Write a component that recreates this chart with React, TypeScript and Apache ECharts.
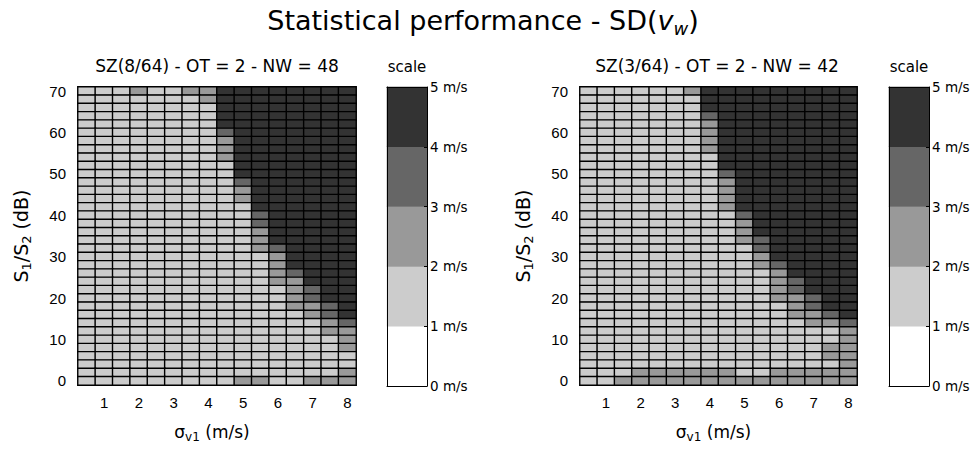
import React, { useEffect, useRef } from "react";
import * as echarts from "echarts";

// sigma_v1 (m/s) categories (cell centres) and S1/S2 (dB) categories
const xTicks = ["0.5", "1", "1.5", "2", "2.5", "3", "3.5", "4", "4.5", "5", "5.5", "6", "6.5", "7", "7.5", "8"];
const yTicks = ["0", "2", "4", "6", "8", "10", "12", "14", "16", "18", "20", "22", "24", "26", "28", "30", "32", "34",
  "36", "38", "40", "42", "44", "46", "48", "50", "52", "54", "56", "58", "60", "62", "64", "66", "68", "70"];

// SD band (m/s, lower bound of the band) for each cell, rows from S1/S2 = 70 dB (top) down to 0 dB
const sdLeft: number[][] = [
  [1, 1, 1, 2, 1, 1, 2, 2, 4, 4, 4, 4, 4, 4, 4, 4],
  [1, 1, 1, 1, 1, 1, 1, 2, 4, 4, 4, 4, 4, 4, 4, 4],
  [1, 1, 1, 1, 1, 1, 1, 1, 4, 4, 4, 4, 4, 4, 4, 4],
  [1, 1, 1, 1, 1, 1, 1, 1, 4, 4, 4, 4, 4, 4, 4, 4],
  [1, 1, 1, 1, 1, 1, 1, 1, 4, 4, 4, 4, 4, 4, 4, 4],
  [1, 1, 1, 1, 1, 1, 1, 1, 3, 4, 4, 4, 4, 4, 4, 4],
  [1, 1, 1, 1, 1, 1, 1, 1, 2, 4, 4, 4, 4, 4, 4, 4],
  [1, 1, 1, 1, 1, 1, 1, 1, 2, 4, 4, 4, 4, 4, 4, 4],
  [1, 1, 1, 1, 1, 1, 1, 1, 2, 4, 4, 4, 4, 4, 4, 4],
  [1, 1, 1, 1, 1, 1, 1, 1, 1, 4, 4, 4, 4, 4, 4, 4],
  [1, 1, 1, 1, 1, 1, 1, 1, 1, 4, 4, 4, 4, 4, 4, 4],
  [1, 1, 1, 1, 1, 1, 1, 1, 1, 3, 4, 4, 4, 4, 4, 4],
  [1, 1, 1, 1, 1, 1, 1, 1, 1, 2, 4, 4, 4, 4, 4, 4],
  [1, 1, 1, 1, 1, 1, 1, 1, 1, 2, 4, 4, 4, 4, 4, 4],
  [1, 1, 1, 1, 1, 1, 1, 1, 1, 1, 4, 4, 4, 4, 4, 4],
  [1, 1, 1, 1, 1, 1, 1, 1, 1, 1, 3, 4, 4, 4, 4, 4],
  [1, 1, 1, 1, 1, 1, 1, 1, 1, 1, 3, 4, 4, 4, 4, 4],
  [1, 1, 1, 1, 1, 1, 1, 1, 1, 1, 2, 4, 4, 4, 4, 4],
  [1, 1, 1, 1, 1, 1, 1, 1, 1, 1, 2, 4, 4, 4, 4, 4],
  [1, 1, 1, 1, 1, 1, 1, 1, 1, 1, 2, 3, 4, 4, 4, 4],
  [1, 1, 1, 1, 1, 1, 1, 1, 1, 1, 1, 2, 4, 4, 4, 4],
  [1, 1, 1, 1, 1, 1, 1, 1, 1, 1, 1, 2, 4, 4, 4, 4],
  [1, 1, 1, 1, 1, 1, 1, 1, 1, 1, 1, 2, 3, 4, 4, 4],
  [1, 1, 1, 1, 1, 1, 1, 1, 1, 1, 1, 2, 2, 4, 4, 4],
  [1, 1, 1, 1, 1, 1, 1, 1, 1, 1, 1, 1, 2, 3, 4, 4],
  [1, 1, 1, 1, 1, 1, 1, 1, 1, 1, 1, 1, 2, 3, 4, 4],
  [1, 1, 1, 1, 1, 1, 1, 1, 1, 1, 1, 1, 2, 2, 3, 4],
  [1, 1, 1, 1, 1, 1, 1, 1, 1, 1, 1, 1, 1, 2, 3, 4],
  [1, 1, 1, 1, 1, 1, 1, 1, 1, 1, 1, 1, 1, 1, 2, 3],
  [1, 1, 1, 1, 1, 1, 1, 1, 1, 1, 1, 1, 1, 1, 2, 2],
  [1, 1, 1, 1, 1, 1, 1, 1, 1, 1, 1, 1, 1, 1, 1, 2],
  [1, 1, 1, 1, 1, 1, 1, 1, 1, 1, 1, 1, 1, 1, 1, 2],
  [1, 1, 1, 1, 1, 1, 1, 1, 1, 1, 1, 1, 1, 1, 1, 1],
  [1, 1, 1, 1, 1, 1, 1, 1, 1, 1, 1, 1, 1, 1, 1, 1],
  [1, 1, 1, 1, 1, 1, 1, 1, 1, 1, 1, 1, 1, 1, 1, 2],
  [1, 1, 1, 1, 1, 1, 1, 1, 1, 2, 2, 1, 1, 2, 2, 2],
];

const sdRight: number[][] = [
  [1, 1, 1, 1, 1, 1, 2, 4, 4, 4, 4, 4, 4, 4, 4, 4],
  [1, 1, 1, 1, 1, 1, 1, 4, 4, 4, 4, 4, 4, 4, 4, 4],
  [1, 1, 1, 1, 1, 1, 1, 4, 4, 4, 4, 4, 4, 4, 4, 4],
  [1, 1, 1, 1, 1, 1, 1, 3, 4, 4, 4, 4, 4, 4, 4, 4],
  [1, 1, 1, 1, 1, 1, 1, 2, 4, 4, 4, 4, 4, 4, 4, 4],
  [1, 1, 1, 1, 1, 1, 1, 2, 4, 4, 4, 4, 4, 4, 4, 4],
  [1, 1, 1, 1, 1, 1, 1, 2, 4, 4, 4, 4, 4, 4, 4, 4],
  [1, 1, 1, 1, 1, 1, 1, 2, 4, 4, 4, 4, 4, 4, 4, 4],
  [1, 1, 1, 1, 1, 1, 1, 1, 4, 4, 4, 4, 4, 4, 4, 4],
  [1, 1, 1, 1, 1, 1, 1, 1, 4, 4, 4, 4, 4, 4, 4, 4],
  [1, 1, 1, 1, 1, 1, 1, 1, 3, 4, 4, 4, 4, 4, 4, 4],
  [1, 1, 1, 1, 1, 1, 1, 1, 2, 4, 4, 4, 4, 4, 4, 4],
  [1, 1, 1, 1, 1, 1, 1, 1, 2, 4, 4, 4, 4, 4, 4, 4],
  [1, 1, 1, 1, 1, 1, 1, 1, 2, 4, 4, 4, 4, 4, 4, 4],
  [1, 1, 1, 1, 1, 1, 1, 1, 2, 4, 4, 4, 4, 4, 4, 4],
  [1, 1, 1, 1, 1, 1, 1, 1, 1, 3, 4, 4, 4, 4, 4, 4],
  [1, 1, 1, 1, 1, 1, 1, 1, 1, 2, 4, 4, 4, 4, 4, 4],
  [1, 1, 1, 1, 1, 1, 1, 1, 1, 2, 4, 4, 4, 4, 4, 4],
  [1, 1, 1, 1, 1, 1, 1, 1, 1, 2, 3, 4, 4, 4, 4, 4],
  [1, 1, 1, 1, 1, 1, 1, 1, 1, 1, 3, 4, 4, 4, 4, 4],
  [1, 1, 1, 1, 1, 1, 1, 1, 1, 1, 2, 4, 4, 4, 4, 4],
  [1, 1, 1, 1, 1, 1, 1, 1, 1, 1, 2, 3, 4, 4, 4, 4],
  [1, 1, 1, 1, 1, 1, 1, 1, 1, 1, 1, 2, 4, 4, 4, 4],
  [1, 1, 1, 1, 1, 1, 1, 1, 1, 1, 1, 2, 3, 4, 4, 4],
  [1, 1, 1, 1, 1, 1, 1, 1, 1, 1, 1, 2, 3, 4, 4, 4],
  [1, 1, 1, 1, 1, 1, 1, 1, 1, 1, 1, 2, 2, 3, 4, 4],
  [1, 1, 1, 1, 1, 1, 1, 1, 1, 1, 1, 1, 2, 3, 4, 4],
  [1, 1, 1, 1, 1, 1, 1, 1, 1, 1, 1, 1, 2, 2, 3, 4],
  [1, 1, 1, 1, 1, 1, 1, 1, 1, 1, 1, 1, 1, 2, 2, 3],
  [1, 1, 1, 1, 1, 1, 1, 1, 1, 1, 1, 1, 1, 1, 1, 2],
  [1, 1, 1, 1, 1, 1, 1, 1, 1, 1, 1, 1, 1, 1, 1, 2],
  [1, 1, 1, 1, 1, 1, 1, 1, 1, 1, 1, 1, 1, 1, 2, 2],
  [1, 1, 1, 1, 1, 1, 1, 1, 1, 1, 1, 1, 1, 1, 2, 2],
  [1, 1, 1, 1, 1, 1, 1, 1, 1, 1, 1, 1, 1, 1, 1, 2],
  [1, 1, 1, 2, 2, 2, 2, 2, 2, 1, 1, 2, 2, 2, 2, 2],
  [1, 1, 2, 2, 2, 2, 2, 2, 2, 2, 2, 2, 2, 2, 2, 2],
];

// colour scale
const scaleBands = ["0", "1", "2", "3", "4"];
const scaleLevels = [0, 1, 2, 3, 4];
const scaleColors = ["#ffffff", "#cccccc", "#999999", "#666666", "#333333"];

const mainTitle = "Statistical performance - SD({i|v}{s|w})";
const leftTitle = "SZ(8/64) - OT = 2 - NW = 48";
const rightTitle = "SZ(3/64) - OT = 2 - NW = 42";

const FONT = "DejaVu Sans";
const TICK_FONT = "Liberation Sans";

function toCells(rows: number[][]) {
  const out: number[][] = [];
  rows.forEach((row, r) => {
    row.forEach((v, c) => {
      out.push([c, yTicks.length - 1 - r, v]);
    });
  });
  return out;
}

export default function App() {
  const ref = useRef<HTMLDivElement>(null);
  useEffect(() => {
    if (!ref.current) return;
    const chart = echarts.init(ref.current, undefined, { renderer: "svg" });
    const txt = { color: "#000", fontFamily: FONT };
    const tick = { color: "#000", fontFamily: TICK_FONT, fontSize: 15 };
    const plotGrids = [
      { left: 78, top: 87, width: 278, height: 298 },
      { left: 580, top: 87, width: 277, height: 298 },
    ];
    const barGrids = [
      { left: 387, top: 87, width: 40, height: 299 },
      { left: 889, top: 87, width: 40, height: 299 },
    ];
    const line = { show: true, onZero: false, lineStyle: { color: "#000", width: 1 } };
    const xAxes: any[] = [];
    const yAxes: any[] = [];
    const series: any[] = [];
    [sdLeft, sdRight].forEach((_rows, k) => {
      const gi = k * 2;
      xAxes.push({
        type: "category", gridIndex: gi, data: xTicks,
        axisLine: line,
        axisTick: { show: false },
        axisLabel: { ...tick, margin: 10, interval: (_i: number, v: string) => Number(v) % 1 === 0 },
        splitLine: { show: false },
        name: "σ{s|v1} (m/s)", nameLocation: "middle", nameGap: 36,
        nameTextStyle: {
          ...txt, fontSize: 17, padding: [0, 10, 0, 0],
          rich: { s: { fontSize: 12, fontFamily: FONT, color: "#000", padding: [10, 0, 0, 0] } },
        },
      });
      yAxes.push({
        type: "category", gridIndex: gi, data: yTicks,
        axisLine: line,
        axisTick: { show: false },
        axisLabel: { ...tick, margin: 12, interval: (_i: number, v: string) => Number(v) % 10 === 0 },
        splitLine: { show: false },
        name: "S{s|1}/S{s|2} (dB)", nameLocation: "middle", nameGap: 45, nameRotate: 90,
        nameTextStyle: {
          ...txt, fontSize: 19,
          rich: { s: { fontSize: 13, fontFamily: FONT, color: "#000", padding: [11, 0, 0, 0] } },
        },
      });
      // colour bar axes
      xAxes.push({
        type: "category", gridIndex: gi + 1, data: ["scale"], position: "bottom", z: 5,
        axisLine: line, axisTick: { show: false }, axisLabel: { show: false }, splitLine: { show: false },
      });
      xAxes.push({
        type: "category", gridIndex: gi + 1, data: ["scale"], position: "top", z: 5,
        axisLine: line, axisTick: { show: false }, axisLabel: { show: false }, splitLine: { show: false },
        name: "scale", nameLocation: "middle", nameGap: 13,
        nameTextStyle: { ...txt, fontSize: 15 },
      });
      yAxes.push({
        type: "category", gridIndex: gi + 1, data: scaleBands, position: "left", z: 5,
        axisLine: line, axisTick: { show: false }, axisLabel: { show: false }, splitLine: { show: false },
      });
      yAxes.push({
        type: "value", gridIndex: gi + 1, position: "right", min: 0, max: 5, interval: 1, z: 5,
        axisLine: line,
        axisTick: { show: true, inside: true, length: 3, lineStyle: { color: "#000" } },
        axisLabel: { ...txt, fontSize: 13.5, margin: 3, formatter: "{value} m/s" },
        splitLine: { show: false },
      });
    });
    // axis indices: x: [0 plot1, 1 bar1 bottom, 2 bar1 top, 3 plot2, 4 bar2 bottom, 5 bar2 top]
    // y: [0 plot1, 1 bar1 cat, 2 bar1 val, 3 plot2, 4 bar2 cat, 5 bar2 val]
    [sdLeft, sdRight].forEach((rows, k) => {
      series.push({
        type: "heatmap", xAxisIndex: k * 3, yAxisIndex: k * 3,
        data: toCells(rows),
        itemStyle: { borderColor: "#000", borderWidth: 1.4 },
        emphasis: { disabled: true },
      });
      series.push({
        type: "heatmap", xAxisIndex: k * 3 + 1, yAxisIndex: k * 3 + 1,
        data: scaleLevels.map((v, i) => [0, i, v]),
        itemStyle: { borderWidth: 0 },
        emphasis: { disabled: true },
      });
    });

    chart.setOption({
      animation: false,
      backgroundColor: "#fff",
      title: [
        {
          text: mainTitle, left: 478, top: -1, textAlign: "center",
          textStyle: {
            ...txt, fontSize: 27, fontWeight: "normal",
            rich: {
              i: { fontSize: 27, fontStyle: "italic", fontFamily: FONT, color: "#000" },
              s: { fontSize: 18, fontStyle: "italic", fontFamily: FONT, color: "#000", padding: [15, 0, 0, 0] },
            },
          },
        },
        { text: leftTitle, left: 212, top: 52, textAlign: "center", textStyle: { ...txt, fontSize: 17, fontWeight: "normal" } },
        { text: rightTitle, left: 712, top: 52, textAlign: "center", textStyle: { ...txt, fontSize: 17, fontWeight: "normal" } },
      ],
      grid: [plotGrids[0], barGrids[0], plotGrids[1], barGrids[1]],
      xAxis: xAxes,
      yAxis: yAxes,
      visualMap: {
        type: "piecewise", show: false, dimension: 2,
        seriesIndex: [0, 1, 2, 3],
        pieces: scaleLevels.map((v, i) => ({ value: v, color: scaleColors[i] })),
      },
      series,
    });
    return () => chart.dispose();
  }, []);
  return <div ref={ref} style={{ position: "fixed", left: 0, top: 0, width: 974, height: 451, background: "#fff" }} />;
}
